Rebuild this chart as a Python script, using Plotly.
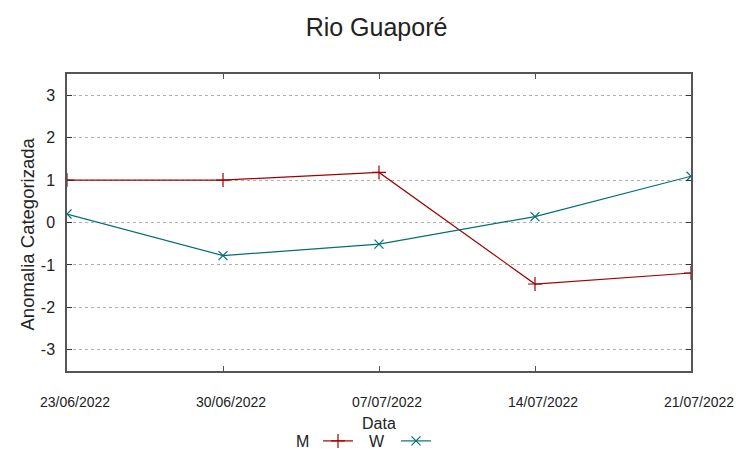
import plotly.graph_objects as go

dates = ["2022-06-23", "2022-06-30", "2022-07-07", "2022-07-14", "2022-07-21"]
tick_labels = ["23/06/2022", "30/06/2022", "07/07/2022", "14/07/2022", "21/07/2022"]
m_values = [1.0, 1.0, 1.18, -1.45, -1.19]
w_values = [0.2, -0.78, -0.51, 0.14, 1.09]
y_ticks = [-3, -2, -1, 0, 1, 2, 3]
y_tick_labels = ["-3", "-2", "-1", "0", "1", "2", "3"]
series_names = ["M", "W"]

M_COLOR = "#a00000"
W_COLOR = "#007070"
FONT = "Liberation Sans, Arial, sans-serif"
W_PX, H_PX = 753, 459

fig = go.Figure()
fig.add_trace(go.Scatter(
    x=dates, y=m_values, name="", mode="lines+markers",
    line=dict(color=M_COLOR, width=1.2),
    marker=dict(symbol="cross-thin", size=10, line=dict(color=M_COLOR, width=1.2)),
))
fig.add_trace(go.Scatter(
    x=dates, y=w_values, name="", mode="lines+markers",
    line=dict(color=W_COLOR, width=1.2),
    marker=dict(symbol="x-thin", size=9, line=dict(color=W_COLOR, width=1.2)),
))

fig.update_layout(
    width=W_PX, height=H_PX,
    margin=dict(l=67, r=62, t=74, b=88),
    paper_bgcolor="white", plot_bgcolor="white",
    font=dict(family=FONT, color="#222222"),
    title=dict(text="Rio Guaporé", x=0.5, xanchor="center", y=1 - 27 / H_PX,
               yanchor="middle", font=dict(size=25, color="#222222")),
    showlegend=True,
    legend=dict(orientation="h", xref="container", x=318 / W_PX, xanchor="left",
                yref="container", y=1 - 441 / H_PX, yanchor="middle",
                font=dict(size=16), bgcolor="rgba(0,0,0,0)",
                entrywidth=33, entrywidthmode="pixels"),
)
fig.update_xaxes(
    type="date", range=[dates[0], dates[-1]],
    tickvals=dates, ticktext=tick_labels,
    tickfont=dict(size=14, color="#222222"),
    ticks="inside", ticklen=5, tickcolor="#555555",
    showline=True, linecolor="#555555", linewidth=1.5, mirror="ticks",
    showgrid=False, zeroline=False, ticklabelstandoff=17, ticklabelshift=8,
    automargin=False,
)
fig.update_yaxes(
    range=[-3.5, 3.5], tickvals=y_ticks, ticktext=y_tick_labels,
    tickfont=dict(size=16, color="#222222"),
    ticks="inside", ticklen=5, tickcolor="#333333",
    showline=True, linecolor="#555555", linewidth=1.5, mirror="ticks",
    showgrid=True, gridcolor="#b0b0b0", griddash="dot", gridwidth=1,
    zeroline=False, ticklabelstandoff=7, automargin=False,
)
fig.add_annotation(text="Data", xref="paper", yref="paper", x=0.5, y=0,
                   xanchor="center", yanchor="middle", yshift=-52,
                   showarrow=False, font=dict(size=16, color="#222222"))
fig.add_annotation(text="Anomalia Categorizada", xref="paper", yref="paper",
                   x=0, y=0.5, xanchor="center", yanchor="middle", xshift=-40,
                   yshift=-12, textangle=-90, showarrow=False,
                   font=dict(size=18.5, color="#222222"))
# legend labels placed left of their samples (gnuplot style)
for name, xpx in zip(series_names, [302, 377]):
    fig.add_annotation(text=name, xref="paper", yref="paper",
                       x=(xpx - 67) / (W_PX - 67 - 62), y=0,
                       xanchor="center", yanchor="middle", yshift=-(441 - 371),
                       showarrow=False, font=dict(size=16, color="#222222"))

fig.write_html("out.html", config={"displayModeBar": False},
               post_script="document.body.style.margin='0';document.body.style.padding='0';")
